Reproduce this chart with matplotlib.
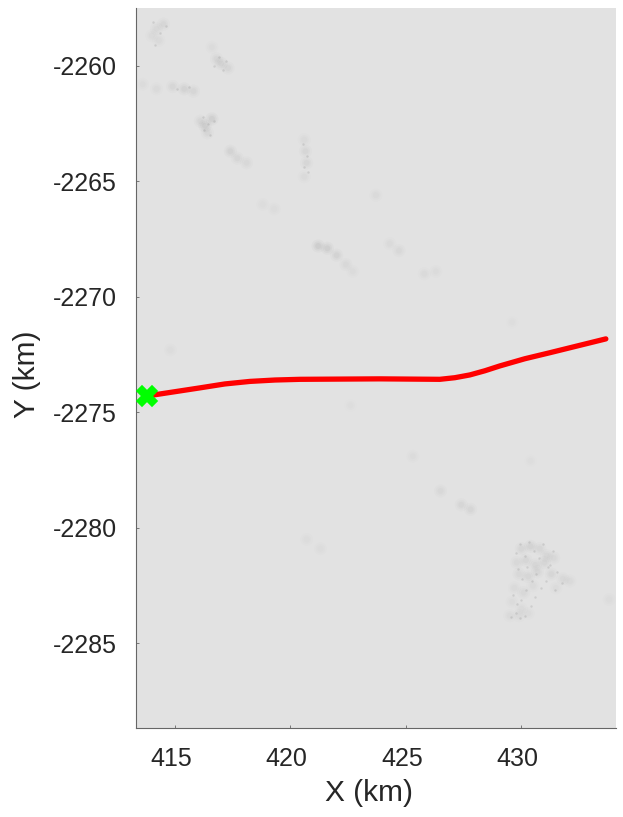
import matplotlib
matplotlib.use('Agg')
import matplotlib.pyplot as plt
from matplotlib.transforms import ScaledTranslation

plt.rcParams['font.family'] = ['Liberation Sans', 'DejaVu Sans']

# flight track (km)
track_x = [413.79, 416.08, 417.16, 418.25, 419.33, 420.41, 423.87, 426.47, 427.12, 427.77, 428.42, 429.07, 430.15, 431.23, 433.66]
track_y = [-2274.29, -2273.94, -2273.77, -2273.66, -2273.6, -2273.57, -2273.55, -2273.57, -2273.5, -2273.38, -2273.2, -2272.99, -2272.68, -2272.42, -2271.82]
start_x = 413.79
start_y = -2274.29

# faint dark patches on the background: x, y, strength
patch_x = [414.2, 414.5, 414.0, 414.3,
           417.0, 416.8, 417.3, 416.6,
           413.6, 414.2, 414.9, 415.4, 415.8,
           416.3, 416.6, 416.1, 416.4,
           417.4, 417.7, 418.1,
           420.6, 420.65, 420.7, 420.6,
           418.8, 419.3,
           421.2, 421.6, 422.0, 422.4, 422.7,
           423.7, 424.3, 424.7, 425.8, 426.3,
           429.6, 414.8, 425.3, 426.5, 427.4, 427.8,
           420.7, 421.3, 422.6, 430.4, 433.8,
           430.0, 430.4, 430.8, 431.1, 429.8, 430.2, 430.6, 431.0, 431.4,
           429.9, 430.3, 430.7, 431.3, 431.8, 432.1,
           429.7, 430.1, 430.5, 431.5, 429.6, 430.0, 429.5, 429.9, 430.3]
patch_y = [-2258.4, -2258.2, -2258.7, -2258.9,
           -2259.9, -2259.7, -2260.1, -2259.2,
           -2260.8, -2261.0, -2260.9, -2261.0, -2261.1,
           -2262.6, -2262.3, -2262.4, -2262.9,
           -2263.7, -2264.0, -2264.2,
           -2263.2, -2263.7, -2264.2, -2264.8,
           -2266.0, -2266.2,
           -2267.8, -2267.9, -2268.2, -2268.6, -2268.9,
           -2265.6, -2267.7, -2268.0, -2269.0, -2268.9,
           -2271.1, -2272.3, -2276.9, -2278.4, -2279.0, -2279.2,
           -2280.5, -2280.9, -2274.7, -2277.1, -2283.1,
           -2280.9, -2280.8, -2280.9, -2281.2, -2281.5, -2281.4, -2281.6, -2281.5, -2281.3,
           -2282.0, -2282.1, -2281.9, -2282.0, -2282.2, -2282.3,
           -2282.6, -2282.8, -2282.5, -2282.6, -2283.2, -2283.5, -2283.8, -2283.8, -2283.7]
patch_s = [.5, .6, .4, .4,
           .8, .6, .6, .3,
           .3, .4, .7, .8, .6,
           1.0, 1.0, .7, .6,
           .8, .7, .5,
           .4, .6, .6, .4,
           .25, .25,
           1.2, 1.1, .8, .5, .3,
           .4, .4, .5, .4, .3,
           .15, .2, .3, .5, .6, .7,
           .2, .25, .15, .15, .2,
           .7, .8, .7, .6, .5, .7, .7, .7, .5,
           .5, .7, .6, .6, .5, .4,
           .4, .5, .4, .3, .3, .35, .35, .4, .3]

# tiny specks inside the big patches
speck_x = [414.05, 414.35, 414.6, 414.15, 416.9, 417.1, 417.2, 416.7,
           415.1, 415.6, 416.2, 416.45, 416.7, 416.25, 416.5,
           420.55, 420.7, 420.6, 420.75,
           429.75, 429.95, 430.15, 430.35, 430.55, 430.75, 430.95, 431.15, 431.35, 431.55, 431.75,
           429.85, 430.05, 430.25, 430.45, 430.65, 430.85, 431.05, 431.25, 431.45,
           429.65, 429.8, 430.0, 430.2, 430.4, 430.6, 429.55, 429.75, 429.95, 430.15]
speck_y = [-2258.1, -2258.6, -2258.3, -2259.1, -2259.6, -2260.2, -2259.8, -2260.0,
           -2261.0, -2260.9, -2262.2, -2262.5, -2262.4, -2262.8, -2263.0,
           -2263.4, -2263.9, -2264.4, -2264.6,
           -2281.1, -2280.7, -2281.2, -2280.6, -2281.0, -2281.3, -2280.7, -2281.7, -2281.0, -2281.9, -2282.4,
           -2281.8, -2282.2, -2281.7, -2282.3, -2282.0, -2282.6, -2282.3, -2281.6, -2282.7,
           -2282.9, -2283.3, -2283.1, -2282.7, -2283.4, -2283.0, -2283.85, -2283.7, -2283.9, -2283.8]

x_ticks = [415, 420, 425, 430]
y_ticks = [-2260, -2265, -2270, -2275, -2280, -2285]

fig = plt.figure(figsize=(6.23, 8.17), dpi=100)
ax = fig.add_axes([135.5 / 623, 1 - 728 / 817, 480.5 / 623, 720 / 817])
ax.set_facecolor('#e2e2e2')

# layered soft dots so the patches look blurred
for size, a in [(90, .03), (45, .04), (18, .05)]:
    ax.scatter(patch_x, patch_y, s=size, c='#555555',
               alpha=[min(1, a * v) for v in patch_s], linewidths=0, zorder=1)
ax.scatter(speck_x, speck_y, s=3, c='#707070', alpha=.18, linewidths=0, zorder=2)

ax.plot(track_x, track_y, color='#ff0000', linewidth=3.8, solid_capstyle='round', zorder=3)
ax.plot(start_x, start_y, marker='X', color='#00ff00', markersize=14.5,
        markeredgewidth=1.2, markeredgecolor='#00ff00', zorder=4)

ax.set_xlim(413.29, 434.1)
ax.set_ylim(-2288.66, -2257.5)
ax.set_xticks(x_ticks)
ax.set_xticklabels([str(v) for v in x_ticks])
ax.set_yticks(y_ticks)
ax.set_yticklabels([str(v) for v in y_ticks])
ax.tick_params(direction='in', length=2, width=0.6, color='#666666',
               labelsize=18, labelcolor='#262626', pad=13.5)
# x labels sit a little left of their ticks in the original
for lab in ax.get_xticklabels():
    lab.set_transform(lab.get_transform() + ScaledTranslation(-4 / 100, 0, fig.dpi_scale_trans))
ax.spines['top'].set_visible(False)
ax.spines['right'].set_visible(False)
ax.spines['left'].set_color('#666666')
ax.spines['bottom'].set_color('#666666')
ax.set_xlabel('X (km)', fontsize=21.5, color='#262626')
ax.set_ylabel('Y (km)', fontsize=21.5, color='#262626')
ax.xaxis.set_label_coords(0.486, -0.071)
ax.yaxis.set_label_coords(-0.197, 0.492)

plt.savefig('out.png', dpi=100)
